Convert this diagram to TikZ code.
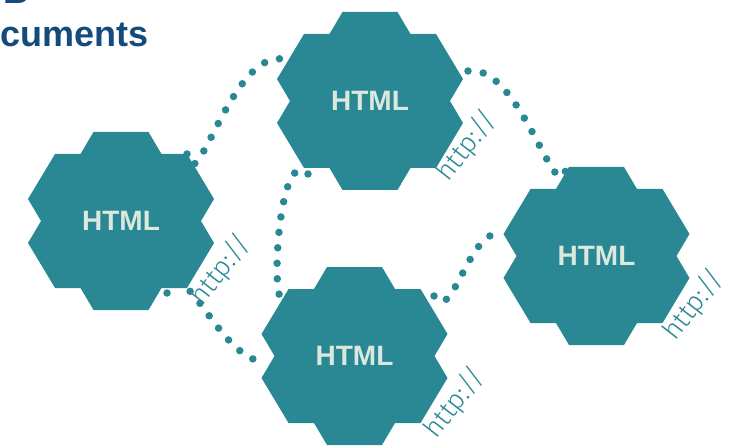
\documentclass[tikz,border=0pt]{standalone}
\usepackage{fontspec}
\setmainfont{Liberation Sans}
\newfontfamily\httpfont{Fira Sans Light}
\usetikzlibrary{calc}

\definecolor{hexfill}{RGB}{42,135,148}
\definecolor{htmltext}{RGB}{218,232,222}
\definecolor{titleblue}{RGB}{20,75,125}

\tikzset{
  hexnode/.style={minimum width=186pt, minimum height=178pt, inner sep=0pt, outer sep=0pt,
    text=htmltext, font=\bfseries\fontsize{28}{28}\selectfont,
    path picture={\fill[hexfill] (path picture bounding box.center) ++(-27.5,-89)
      -- ++(55,0) -- ++(13,22) -- ++(25.5,0) -- ++(27,45) -- ++(-13,22)
      -- ++(13,22) -- ++(-27,45) -- ++(-25.5,0) -- ++(-13,22) -- ++(-55,0)
      -- ++(-13,-22) -- ++(-25.5,0) -- ++(-27,-45) -- ++(13,-22) -- ++(-13,-22)
      -- ++(27,-45) -- ++(25.5,0) -- cycle;}},
  link/.style={draw=hexfill, line width=7.5pt, line cap=round, dash pattern=on 0pt off 15.5pt},
  httplabel/.style={text=hexfill, font=\httpfont\fontsize{27}{27}\selectfont, rotate=52, inner sep=0pt},
  titletext/.style={text=titleblue, font=\bfseries\fontsize{36}{36}\selectfont, inner sep=0pt}
}

\begin{document}
\begin{tikzpicture}[x=1pt, y=-1pt]
\useasboundingbox (0,0) rectangle (730,446);

% title, cut by the page edge
\node[titletext, anchor=base west] (tB) at (3,4) {B};
\node[titletext, anchor=base west] (tdoc) at (0,47) {cuments};

% documents
\node[hexnode] (left) at (121,221) {HTML};
\node[hexnode] (top) at (370,101) {HTML};
\node[hexnode] (right) at (596.5,256) {HTML};
\node[hexnode] (bottom) at (354.5,356) {HTML};

% links
\draw[link] ($(left)+(66,-67)$) to[out=-81, in=171] ($(top)+(-87,-42)$);
\draw[link] ($(top)+(98,-30)$) to[out=9, in=-99] ($(right)+(-30,-90)$);
\draw[link] ($(top)+(-62,73)$) to[out=133, in=-113] ($(bottom)+(-67.5,-63)$);
\draw[link] ($(left)+(46,72)$) to[out=68, in=181] ($(bottom)+(-87.5,6)$);
\draw[link] ($(bottom)+(79.5,-60)$) to[out=-60, in=157] ($(right)+(-92.5,-21)$);

\node[httplabel] (h1) at (221,270) {http://};
\node[httplabel] (h2) at (467,146) {http://};
\node[httplabel] (h3) at (694,305) {http://};
\node[httplabel] (h4) at (455,403) {http://};

\end{tikzpicture}
\end{document}
